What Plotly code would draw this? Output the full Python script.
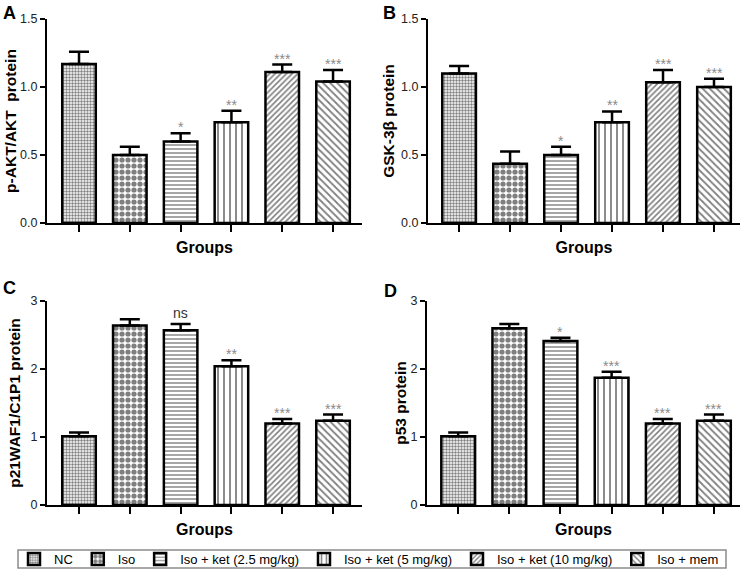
import plotly.graph_objects as go

groups = ["NC", "Iso", "Iso + ket (2.5 mg/kg)", "Iso + ket (5 mg/kg)",
          "Iso + ket (10 mg/kg)", "Iso + mem"]

akt_mean = [1.17, 0.50, 0.60, 0.74, 1.11, 1.04]
akt_err = [0.09, 0.06, 0.06, 0.085, 0.055, 0.085]
akt_sig = ["", "", "*", "**", "***", "***"]

gsk_mean = [1.10, 0.435, 0.50, 0.74, 1.035, 1.00]
gsk_err = [0.055, 0.09, 0.06, 0.08, 0.09, 0.06]
gsk_sig = ["", "", "*", "**", "***", "***"]

p21_mean = [1.01, 2.64, 2.57, 2.04, 1.20, 1.24]
p21_err = [0.055, 0.09, 0.09, 0.09, 0.065, 0.09]
p21_sig = ["", "", "ns", "**", "***", "***"]

p53_mean = [1.01, 2.60, 2.41, 1.87, 1.20, 1.24]
p53_err = [0.055, 0.06, 0.05, 0.09, 0.065, 0.09]
p53_sig = ["", "", "*", "***", "***", "***"]

y_titles = ["p-AKT/AKT  protein", "GSK-3β protein", "p21WAF1/C1P1 protein", "p53 protein"]
panel_letters = ["A", "B", "C", "D"]
x_title = "Groups"

patterns = [
    dict(shape=".", size=3, solidity=0.5),
    dict(shape=".", size=6, solidity=0.6),
    dict(shape="-", size=4, solidity=0.35),
    dict(shape="|", size=6, solidity=0.3),
    dict(shape="/", size=4, solidity=0.4),
    dict(shape="\\", size=5, solidity=0.35),
]

W, H = 741, 578


def px_x(p):
    return p / W


def px_y(p):
    return (H - p) / H


panels = [
    dict(mean=akt_mean, err=akt_err, sig=akt_sig, yr=[0, 1.5], dtick=0.5, fmt=".1f",
         xd=[px_x(47), px_x(362)], yd=[px_y(223), px_y(19)], xr=[-0.63, 5.57],
         standoff=0, letter_pos=(1, 1)),
    dict(mean=gsk_mean, err=gsk_err, sig=gsk_sig, yr=[0, 1.5], dtick=0.5, fmt=".1f",
         xd=[px_x(428), px_x(740)], yd=[px_y(223), px_y(19)], xr=[-0.61, 5.51],
         standoff=3, letter_pos=(381, 1)),
    dict(mean=p21_mean, err=p21_err, sig=p21_sig, yr=[0, 3], dtick=1, fmt="d",
         xd=[px_x(47), px_x(362)], yd=[px_y(505), px_y(301)], xr=[-0.63, 5.57],
         standoff=6, letter_pos=(1, 276)),
    dict(mean=p53_mean, err=p53_err, sig=p53_sig, yr=[0, 3], dtick=1, fmt="d",
         xd=[px_x(427), px_x(740)], yd=[px_y(505), px_y(301)], xr=[-0.61, 5.51],
         standoff=0, letter_pos=(382, 279)),
]

fig = go.Figure()
annotations = []
font_family = "Liberation Sans, Arial, sans-serif"

for pi, p in enumerate(panels):
    sfx = "" if pi == 0 else str(pi + 1)
    for gi, g in enumerate(groups):
        fig.add_trace(go.Bar(
            x=[g], y=[p["mean"][gi]],
            name=g, legendgroup=g, showlegend=(pi == 0),
            width=0.66,
            marker=dict(color="white", line=dict(color="black", width=2.5),
                        pattern=dict(fgcolor="black", bgcolor="white", **patterns[gi])),
            error_y=dict(type="data", symmetric=False, array=[p["err"][gi]],
                         arrayminus=[0], color="black", thickness=2.5, width=10),
            xaxis="x" + sfx, yaxis="y" + sfx,
        ))
        s = p["sig"][gi]
        if s:
            annotations.append(dict(
                x=g, y=p["mean"][gi] + p["err"][gi], xref="x" + sfx, yref="y" + sfx,
                text=s, showarrow=False, yanchor="bottom",
                yshift=(1 if s == "ns" else -4),
                font=dict(size=14,
                          color=("#333333" if s == "ns" else "#8a8a8a"),
                          family=font_family),
            ))
    lx, ly = p["letter_pos"]
    annotations.append(dict(
        x=px_x(lx), y=px_y(ly), xref="paper", yref="paper", xanchor="left", yanchor="top",
        text="<b>" + panel_letters[pi] + "</b>", showarrow=False,
        font=dict(size=18, color="black", family=font_family),
    ))
    fig.update_layout(**{
        "xaxis" + sfx: dict(
            domain=p["xd"], anchor="y" + sfx, type="category", categoryorder="array",
            categoryarray=groups, range=p["xr"], showticklabels=False,
            ticks="outside", ticklen=7, tickwidth=1.5, tickcolor="black",
            showline=True, linecolor="black", linewidth=2, showgrid=False,
            zeroline=False,
            title=dict(text=x_title, standoff=11,
                       font=dict(size=16, color="black", family=font_family, weight="bold")),
        ),
        "yaxis" + sfx: dict(
            domain=p["yd"], anchor="x" + sfx, range=p["yr"], dtick=p["dtick"],
            tickformat=p["fmt"], ticks="outside", ticklen=5, tickwidth=1.5,
            tickcolor="black", showline=True, linecolor="black", linewidth=2,
            showgrid=False, zeroline=False,
            tickfont=dict(size=12.5, color="#222222", family=font_family),
            title=dict(text=y_titles[pi], standoff=p["standoff"],
                       font=dict(size=15.5, color="black", family=font_family, weight="bold")),
        ),
    })

fig.update_layout(
    width=W, height=H,
    margin=dict(l=0, r=0, t=0, b=0, autoexpand=False),
    paper_bgcolor="white", plot_bgcolor="white",
    barmode="overlay",
    font=dict(family=font_family, color="black"),
    annotations=annotations,
    shapes=[dict(type="rect", xref="paper", yref="paper",
                 x0=px_x(18), x1=px_x(726), y0=px_y(568), y1=px_y(550),
                 line=dict(color="#8c8c8c", width=1.5), fillcolor="rgba(0,0,0,0)")],
    legend=dict(orientation="h", x=px_x(14), xanchor="left", y=px_y(559), yanchor="middle",
                borderwidth=0, bgcolor="rgba(0,0,0,0)",
                font=dict(size=13, color="black"),
                itemclick=False, itemdoubleclick=False),
)

fig.write_html("out.html", config={"displayModeBar": False},
               post_script="document.body.style.margin='0';document.body.style.overflow='hidden';")
